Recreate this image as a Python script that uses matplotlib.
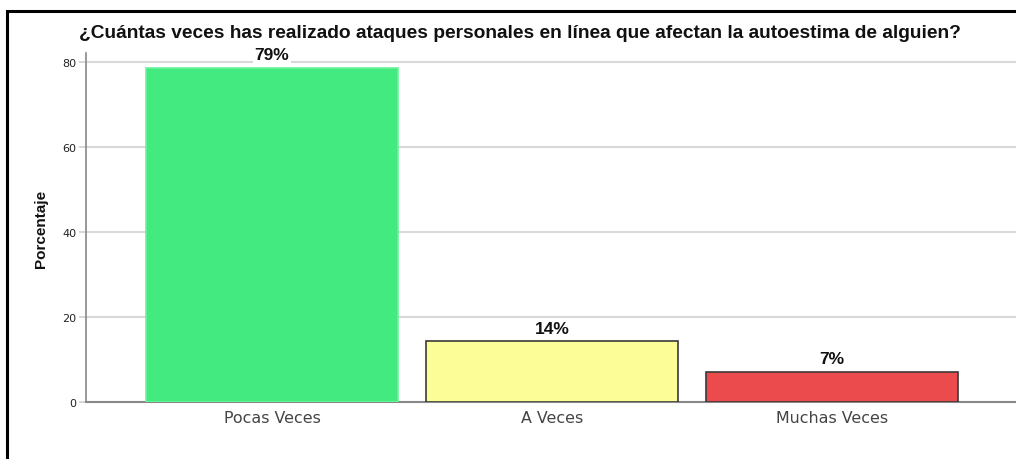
import matplotlib
matplotlib.use("Agg")
import matplotlib.pyplot as plt
from matplotlib.patches import Rectangle

categories = ["Pocas Veces", "A Veces", "Muchas Veces"]
values = [78.6, 14.3, 7.1]
labels = ["79%", "14%", "7%"]
colors = ["#43ea7f", "#fdfd98", "#ec4b4e"]
edges = ["#6af39a", "#3a3a3a", "#3a3a3a"]
yticks = [0, 20, 40, 60, 80]
title = "¿Cuántas veces has realizado ataques personales en línea que afectan la autoestima de alguien?"

W, H = 1016, 460
fig = plt.figure(figsize=(W / 100, H / 100), dpi=100)
fig.patch.set_facecolor("white")

ax = fig.add_axes([86 / W, 57 / H, (1018 - 86) / W, (403 - 54) / H])
ax.set_xlim(-0.664, 2.664)
ax.set_ylim(0, 82.1)

x = list(range(len(categories)))
ax.bar(x, values, width=0.9, color=colors, edgecolor=edges, linewidth=1.2, zorder=3)

ax.set_yticks(yticks)
ax.set_yticklabels([str(t) for t in yticks], fontsize=8, color="#222222", family="DejaVu Sans")
ax.yaxis.grid(True, color="#d8d8d8", linewidth=1.5, zorder=0)
ax.set_axisbelow(True)
ax.tick_params(axis="y", length=5, color="#d0d0d0", width=1.2, pad=2)
ax.tick_params(axis="x", length=0, pad=6)
ax.set_xticks(x)
ax.set_xticklabels(categories, fontsize=11.4, color="#444444", family="DejaVu Sans")

for s in ["top", "right"]:
    ax.spines[s].set_visible(False)
ax.spines["left"].set_color("#888888")
ax.spines["left"].set_linewidth(1.2)
ax.spines["bottom"].set_color("#888888")
ax.spines["bottom"].set_linewidth(1.5)

for xi, v, lab in zip(x, values, labels):
    ax.annotate(lab, (xi, v), xytext=(0, 4), textcoords="offset points",
                ha="center", va="bottom", fontsize=12.5, fontweight="bold",
                family="Liberation Sans", color="#111111", zorder=4,
                bbox=dict(boxstyle="square,pad=0.1", fc="white", ec="none"))

ax.set_ylabel("Porcentaje", fontsize=11, fontweight="bold",
              family=["Liberation Sans Narrow", "Liberation Sans"], color="#111111")
ax.yaxis.set_label_coords((48 - 86) / (1018 - 86), 0.5)

fig.text(520 / W, 1 - 33 / H, title, ha="center", va="center", fontsize=13.8,
         fontweight="bold", family="Liberation Sans", color="#111111")

fig.patches.append(Rectangle((7 / W, -0.05), 1.2, 1 - 12 / H + 0.05, transform=fig.transFigure,
                             fill=False, ec="black", lw=2.2, zorder=10))

fig.savefig("out.png", dpi=100)
